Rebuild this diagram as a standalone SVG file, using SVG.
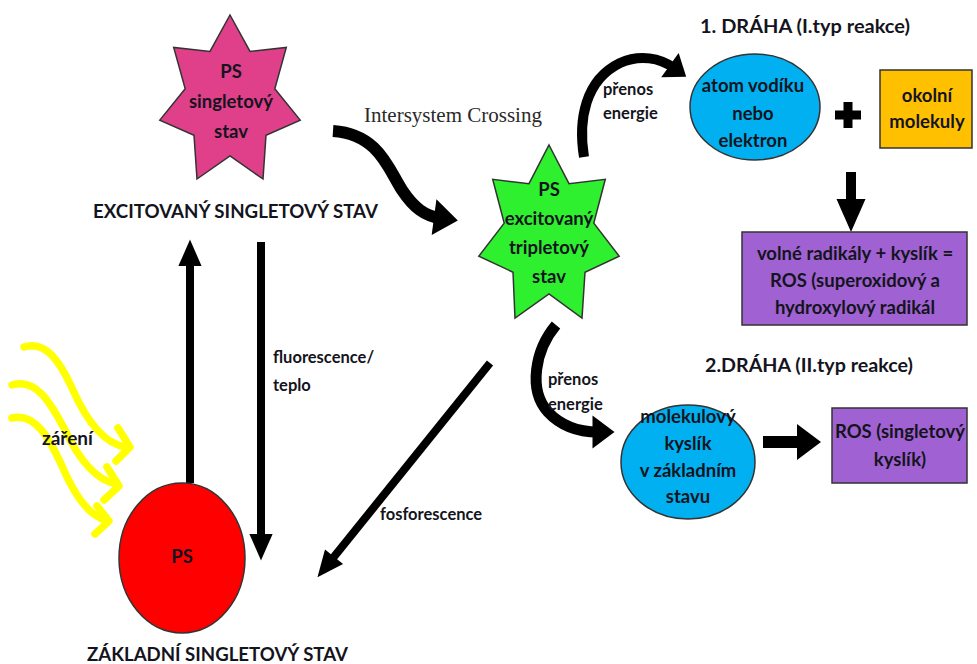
<svg xmlns="http://www.w3.org/2000/svg" width="977" height="664" viewBox="0 0 977 664">
<style>
.t{font-family:Lato,"Open Sans","Liberation Sans",sans-serif;font-weight:700;fill:#141420;text-anchor:middle;font-size:18.5px}
.h{font-family:Lato,"Open Sans","Liberation Sans",sans-serif;font-weight:700;fill:#141420;font-size:19.5px}
.l{font-family:Lato,"Open Sans","Liberation Sans",sans-serif;font-weight:700;fill:#141420;font-size:16.5px}
.shape{stroke:#333;stroke-width:1.5}
.ar{fill:none;stroke:#000;stroke-linecap:butt}
.yw{fill:none;stroke:#FFFF00;stroke-width:7.5;stroke-linecap:round;stroke-linejoin:round}
</style>
<defs>
<marker id="ah" markerUnits="strokeWidth" markerWidth="4" markerHeight="4" refX="1" refY="1.45" orient="auto" overflow="visible"><path d="M0,0 L3.3,1.45 L0,2.9 z" fill="#000"/></marker>
<marker id="ahs" markerUnits="strokeWidth" markerWidth="3" markerHeight="3" refX="0.5" refY="1.5" orient="auto" overflow="visible"><path d="M0,0 L2,1.5 L0,3 z" fill="#000"/></marker>
</defs>
<rect width="977" height="664" fill="#fff"/>

<g id="connectors">
<path class="ar" stroke-width="12" marker-end="url(#ahs)" d="M333,131 C378,134 388,168 402,190 C414,208 425,216 440,218"/>
<path class="ar" stroke-width="10" marker-end="url(#ahs)" d="M584,157 C578,120 585,80 620,63 C640,54 660,58 674,68"/>
<path class="ar" stroke-width="11" marker-end="url(#ahs)" d="M556,325 C535,350 528,390 548,412 C562,427 580,432 598,432"/>
<path class="ar" stroke-width="8" marker-end="url(#ah)" d="M190,483 L190,258"/>
<path class="ar" stroke-width="8" marker-end="url(#ah)" d="M261,242 L261,542"/>
<path class="ar" stroke-width="8" marker-end="url(#ah)" d="M490,363 L329,563"/>
<path class="ar" stroke-width="10" marker-end="url(#ah)" d="M851,172 L851,209"/>
<path class="ar" stroke-width="12" marker-end="url(#ahs)" d="M763,442 L803,442"/>
</g>

<g id="radiation">
<path class="yw" d="M24,347 C46,340 60,362 72,388 C86,420 104,444 126,447"/>
<path class="yw" d="M118,428 L130,447 L116,461"/>
<path class="yw" d="M12,385 C36,378 50,402 64,428 C78,458 96,480 116,484"/>
<path class="yw" d="M107,467 L119,486 L104,500"/>
<path class="yw" d="M12,418 C36,412 50,440 62,466 C74,494 88,516 106,520"/>
<path class="yw" d="M97,506 L109,521 L95,534"/>
<text class="l" x="42" y="445" style="font-size:19px">záření</text>
</g>

<g id="ps-singlet">
<polygon class="shape" fill="#E0408A" points="230,15 250,51.4 286.3,47.4 274.8,88.8 300.2,120.1 266,135.3 263,179 230,156 197,179 194,135.3 159.8,120.1 185.2,88.8 173.7,47.4 210,51.4"/>
<text class="t" x="231" y="78">PS</text>
<text class="t" x="231" y="108">singletový</text>
<text class="t" x="231" y="138">stav</text>
</g>

<g id="label-excited">
<text class="h" x="93" y="218" textLength="285" lengthAdjust="spacingAndGlyphs">EXCITOVANÝ SINGLETOVÝ STAV</text>
</g>

<g id="isc-label">
<text x="453" y="122" style="font-family:'Liberation Serif','Times New Roman',serif;font-size:21px;fill:#2a2a2a;text-anchor:middle">Intersystem Crossing</text>
</g>

<g id="ps-triplet">
<polygon class="shape" fill="#2EF02E" points="549,145 569,183.7 605.3,179.3 593.8,223.1 619.2,256.2 585,272.2 582,318 549,294 515,318 513,272.2 478.8,256.2 504.2,223.1 492.7,179.3 529,183.7"/>
<text class="t" x="549" y="196">PS</text>
<text class="t" x="549" y="225">excitovaný</text>
<text class="t" x="549" y="254">tripletový</text>
<text class="t" x="549" y="283">stav</text>
</g>

<g id="path1-title"><text class="h" x="700" y="33" textLength="210" lengthAdjust="spacingAndGlyphs">1. DRÁHA (I.typ reakce)</text></g>

<g id="energy1">
<text class="l" x="603" y="95">přenos</text>
<text class="l" x="603" y="119">energie</text>
</g>

<g id="atom">
<ellipse class="shape" fill="#00B0F0" cx="755" cy="107" rx="65" ry="53"/>
<text class="t" x="753" y="92">atom vodíku</text>
<text class="t" x="753" y="120">nebo</text>
<text class="t" x="753" y="147">elektron</text>
</g>

<g id="plus">
<path d="M848,102 V128 M835,115 H861" stroke="#000" stroke-width="9" fill="none"/>
</g>

<g id="okolni">
<rect class="shape" fill="#FFC000" x="880" y="70" width="92" height="78"/>
<text class="t" x="927" y="102">okolní</text>
<text class="t" x="927" y="128">molekuly</text>
</g>

<g id="ros1">
<rect class="shape" fill="#A062D2" x="742" y="232" width="225" height="93"/>
<text class="t" x="855" y="260">volné radikály + kyslík =</text>
<text class="t" x="855" y="287">ROS (superoxidový a</text>
<text class="t" x="855" y="314">hydroxylový radikál</text>
</g>

<g id="path2-title"><text class="h" x="705" y="372" textLength="208" lengthAdjust="spacingAndGlyphs">2.DRÁHA (II.typ reakce)</text></g>

<g id="energy2">
<text class="l" x="548" y="385">přenos</text>
<text class="l" x="548" y="410">energie</text>
</g>

<g id="oxygen">
<ellipse class="shape" fill="#00B0F0" cx="688" cy="462" rx="67" ry="57"/>
<text class="t" x="688" y="423">molekulový</text>
<text class="t" x="688" y="450">kyslík</text>
<text class="t" x="688" y="477">v základním</text>
<text class="t" x="688" y="503">stavu</text>
</g>

<g id="ros2">
<rect class="shape" fill="#A062D2" x="832" y="408" width="135" height="75"/>
<text class="t" x="900" y="438">ROS (singletový</text>
<text class="t" x="900" y="466">kyslík)</text>
</g>

<g id="ps-ground">
<ellipse class="shape" fill="#FF0000" cx="182" cy="558" rx="63" ry="75"/>
<text class="t" x="182" y="563">PS</text>
</g>

<g id="labels">
<text class="l" x="273" y="363">fluorescence/</text>
<text class="l" x="273" y="391">teplo</text>
<text class="l" x="380" y="520">fosforescence</text>
</g>

<g id="label-ground">
<text class="h" x="87" y="661" textLength="261" lengthAdjust="spacingAndGlyphs">ZÁKLADNÍ SINGLETOVÝ STAV</text>
</g>
</svg>
